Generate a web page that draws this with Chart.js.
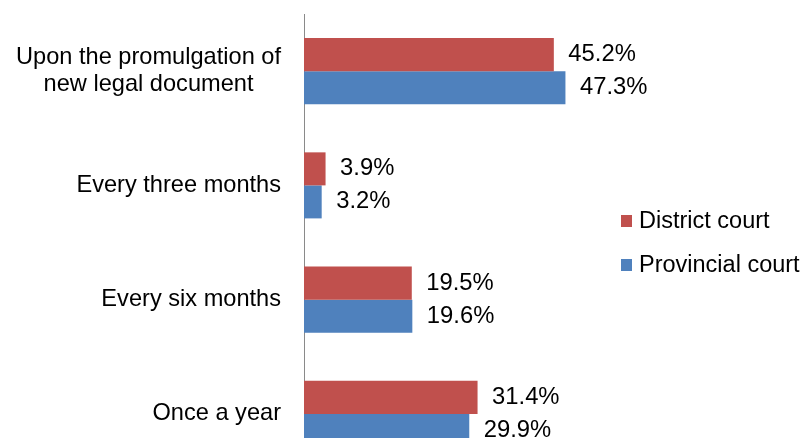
<!DOCTYPE html>
<html>
<head>
<meta charset="utf-8">
<script src="https://cdn.jsdelivr.net/npm/chart.js@4/dist/chart.umd.min.js"></script>
<style>
html, body { margin: 0; padding: 0; overflow: hidden; background: #ffffff; }
#wrap { width: 807px; height: 438px; overflow: hidden; }
canvas { display: block; }
</style>
</head>
<body>
<div id="wrap"><canvas id="c" width="807" height="471"></canvas></div>
<script>
// ---- data ----
const categories = [["Upon the promulgation of", "new legal document"], "Every three months", "Every six months", "Once a year"];
const seriesNames = ["District court", "Provincial court"];
const districtCourt = [45.2, 3.9, 19.5, 31.4];
const provincialCourt = [47.3, 3.2, 19.6, 29.9];
const seriesColors = ["#C0504D", "#4F81BD"];

const FONT = "'Liberation Sans', Arial, sans-serif";

const labelPlugin = {
  id: 'customText',
  afterDraw(chart) {
    const ctx = chart.ctx;
    const yScale = chart.scales.y;
    ctx.save();
    ctx.fillStyle = '#000000';
    // category labels (multi-line centered block, right-aligned)
    ctx.font = '23.6px ' + FONT;
    ctx.textBaseline = 'middle';
    const rightEdge = yScale.right - 23;
    categories.forEach((lab, i) => {
      const lines = Array.isArray(lab) ? lab : [lab];
      const y = yScale.getPixelForValue(i);
      const lh = 27;
      const widths = lines.map(l => ctx.measureText(l).width);
      const bw = Math.max(...widths);
      const cx = rightEdge - bw / 2;
      ctx.textAlign = 'center';
      lines.forEach((l, k) => {
        ctx.fillText(l, cx, y + (k - (lines.length - 1) / 2) * lh);
      });
    });
    // value labels
    ctx.font = '23.8px ' + FONT;
    ctx.textAlign = 'left';
    chart.data.datasets.forEach((ds, di) => {
      const meta = chart.getDatasetMeta(di);
      meta.data.forEach((bar, i) => {
        ctx.fillText(ds.data[i].toFixed(1) + '%', bar.x + 14.5, bar.y);
      });
    });
    // legend
    ctx.font = '23.5px ' + FONT;
    const legX = 621, legY0 = 221, legStep = 44;
    chart.data.datasets.forEach((ds, di) => {
      const cy = legY0 + di * legStep;
      ctx.fillStyle = ds.backgroundColor;
      ctx.fillRect(legX, cy - 6, 11, 12);
      ctx.fillStyle = '#000000';
      ctx.fillText(ds.label, legX + 18, cy + 1);
    });
    ctx.restore();
  }
};

new Chart(document.getElementById('c'), {
  type: 'bar',
  data: {
    labels: categories,
    datasets: [
      { label: seriesNames[0], data: districtCourt, backgroundColor: seriesColors[0] },
      { label: seriesNames[1], data: provincialCourt, backgroundColor: seriesColors[1] }
    ]
  },
  options: {
    indexAxis: 'y',
    responsive: false,
    animation: false,
    devicePixelRatio: 1,
    layout: { padding: { top: 14, right: 199, bottom: 0, left: 0 } },
    datasets: { bar: { barPercentage: 1.0, categoryPercentage: 0.578 } },
    plugins: { legend: { display: false }, tooltip: { enabled: false } },
    scales: {
      x: { display: false, min: 0, max: 55 },
      y: {
        grid: { display: false },
        border: { display: true, color: '#8a8a8a', width: 1 },
        ticks: { display: false },
        afterFit(scale) { scale.width = 304; }
      }
    }
  },
  plugins: [labelPlugin]
});
</script>
</body>
</html>
